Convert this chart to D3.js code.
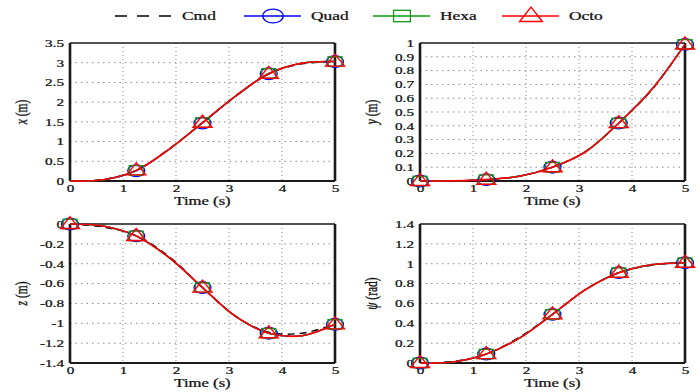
<!DOCTYPE html>
<html><head><meta charset="utf-8">
<script src="https://cdn.jsdelivr.net/npm/d3@7"></script>
<style>body{margin:0;background:#fff} svg{display:block} text{stroke:#111;stroke-width:0.25px}</style>
</head><body>
<svg id="c" width="700" height="392"></svg>
<script>
// ---------------- data ----------------
const time = [0, 0.625, 1.25, 1.875, 2.5, 3.125, 3.75, 4.375, 5];
const seriesNames = ["Cmd", "Quad", "Hexa", "Octo"];

const xCmd  = [0, 0.04, 0.27, 0.82, 1.48, 2.15, 2.72, 2.97, 3.03];
const xQuad = [0, 0.03, 0.26, 0.81, 1.47, 2.15, 2.72, 2.99, 3.03];
const xHexa = [0, 0.03, 0.27, 0.81, 1.48, 2.15, 2.73, 2.99, 3.03];
const xOcto = [0, 0.03, 0.27, 0.81, 1.48, 2.16, 2.72, 2.99, 3.03];

const yCmd  = [0, 0.001, 0.01, 0.035, 0.10, 0.215, 0.42, 0.66, 0.99];
const yQuad = [0, 0.001, 0.01, 0.034, 0.10, 0.212, 0.42, 0.665, 0.99];
const yHexa = [0, 0.001, 0.01, 0.034, 0.10, 0.213, 0.42, 0.665, 0.99];
const yOcto = [0, 0.001, 0.01, 0.034, 0.10, 0.212, 0.42, 0.665, 0.99];

const zCmd  = [0, -0.03, -0.12, -0.33, -0.64, -0.93, -1.09, -1.10, -1.01];
const zQuad = [0, -0.02, -0.12, -0.34, -0.64, -0.93, -1.10, -1.125, -1.01];
const zHexa = [0, -0.02, -0.12, -0.34, -0.64, -0.93, -1.10, -1.125, -1.01];
const zOcto = [0, -0.02, -0.12, -0.34, -0.64, -0.93, -1.10, -1.125, -1.01];

const psiCmd  = [0, 0.015, 0.09, 0.26, 0.49, 0.74, 0.91, 0.985, 1.01];
const psiQuad = [0, 0.01, 0.09, 0.25, 0.49, 0.74, 0.91, 0.99, 1.01];
const psiHexa = [0, 0.01, 0.09, 0.25, 0.49, 0.74, 0.91, 0.99, 1.01];
const psiOcto = [0, 0.01, 0.09, 0.25, 0.49, 0.74, 0.91, 0.99, 1.01];

const timeTicks = [0, 1, 2, 3, 4, 5];
const xTicks = [0, 0.5, 1, 1.5, 2, 2.5, 3, 3.5];
const yTicks = [0, 0.1, 0.2, 0.3, 0.4, 0.5, 0.6, 0.7, 0.8, 0.9, 1];
const zTicks = [-1.4, -1.2, -1, -0.8, -0.6, -0.4, -0.2, 0];
const psiTicks = [0, 0.2, 0.4, 0.6, 0.8, 1, 1.2, 1.4];

const xMarkerIdx = [2, 4, 6, 8];
const allMarkerIdx = [0, 2, 4, 6, 8];

// ---------------- style / layout ----------------
const SX = 1.45;
const FONT = "'Liberation Serif','Times New Roman',serif";
const colors = {Cmd: "#000", Quad: "#0000ff", Hexa: "#119911", Octo: "#ff0000"};

const panels = [
  {v: "x", unit: " (m)", dom: [0, 3.5], ticks: xTicks, data: [xCmd, xQuad, xHexa, xOcto], mk: xMarkerIdx, L: 70, R: 335, T: 43, B: 181, lx: 23},
  {v: "y", unit: " (m)", dom: [0, 1], ticks: yTicks, data: [yCmd, yQuad, yHexa, yOcto], mk: allMarkerIdx, L: 420, R: 685, T: 43, B: 181, lx: 373},
  {v: "z", unit: " (m)", dom: [-1.4, 0], ticks: zTicks, data: [zCmd, zQuad, zHexa, zOcto], mk: allMarkerIdx, L: 70, R: 335, T: 224, B: 363, lx: 23},
  {v: "ψ", unit: " (rad)", dom: [0, 1.4], ticks: psiTicks, data: [psiCmd, psiQuad, psiHexa, psiOcto], mk: allMarkerIdx, L: 420, R: 685, T: 224, B: 363, lx: 373}
];

const svg = d3.select("#c");
const fmt = d => String(+(+d).toFixed(2));

function drawMarker(g, name, cx, cy, big) {
  const k = big ? 1.2 : 1;
  if (name === "Quad") {
    g.append("ellipse").attr("cx", cx).attr("cy", cy).attr("rx", 8.5 * k).attr("ry", 5.8 * k)
      .attr("fill", "none").attr("stroke", colors.Quad).attr("stroke-width", 1.3);
  } else if (name === "Hexa") {
    const w = 14 * k, h = 9.5 * k;
    g.append("rect").attr("x", cx - w / 2).attr("y", cy - h / 2).attr("width", w).attr("height", h)
      .attr("fill", "none").attr("stroke", colors.Hexa).attr("stroke-width", 1.3);
  } else if (name === "Octo") {
    const w = 19 * k, h = 12 * k;
    g.append("path").attr("d", `M${cx},${cy - h * 0.62}L${cx + w / 2},${cy + h * 0.38}L${cx - w / 2},${cy + h * 0.38}Z`)
      .attr("fill", "none").attr("stroke", colors.Octo).attr("stroke-width", 1.4);
  }
}

panels.forEach(p => {
  const g = svg.append("g");
  const x = d3.scaleLinear().domain([0, 5]).range([p.L, p.R]);
  const y = d3.scaleLinear().domain(p.dom).range([p.B, p.T]);

  // grid
  g.append("g").selectAll("line").data(timeTicks.slice(1, -1)).join("line")
    .attr("x1", d => x(d)).attr("x2", d => x(d)).attr("y1", p.T).attr("y2", p.B)
    .attr("stroke", "#8a8a8a").attr("stroke-width", 1).attr("stroke-dasharray", "1,3");
  g.append("g").selectAll("line").data(p.ticks.slice(1, -1)).join("line")
    .attr("y1", d => y(d)).attr("y2", d => y(d)).attr("x1", p.L).attr("x2", p.R)
    .attr("stroke", "#8a8a8a").attr("stroke-width", 1).attr("stroke-dasharray", "1.5,4");

  // axes
  const ax = g.append("g").attr("transform", `translate(0,${p.B})`)
    .call(d3.axisBottom(x).tickValues(timeTicks).tickSize(0).tickFormat(fmt));
  ax.select(".domain").remove();
  ax.selectAll("text").attr("y", null).attr("dy", null)
    .attr("transform", `translate(0,11) scale(${SX},1)`)
    .attr("font-family", FONT).attr("font-size", 10.5).attr("fill", "#111");

  const ay = g.append("g").attr("transform", `translate(${p.L},0)`)
    .call(d3.axisLeft(y).tickValues(p.ticks).tickSize(0).tickFormat(fmt));
  ay.select(".domain").remove();
  ay.selectAll("text").attr("x", null).attr("dy", "0.32em")
    .attr("transform", `translate(-6,0) scale(${SX},1)`)
    .attr("font-family", FONT).attr("font-size", 10.5).attr("fill", "#111");

  // frame
  const fr = g.append("g").attr("stroke", "#1a1a1a");
  fr.append("line").attr("x1", p.L).attr("x2", p.R).attr("y1", p.T).attr("y2", p.T).attr("stroke-width", 1.4);
  fr.append("line").attr("x1", p.L).attr("x2", p.R).attr("y1", p.B).attr("y2", p.B).attr("stroke-width", 2);
  fr.append("line").attr("x1", p.L).attr("x2", p.L).attr("y1", p.T).attr("y2", p.B).attr("stroke-width", 2.6);
  fr.append("line").attr("x1", p.R).attr("x2", p.R).attr("y1", p.T).attr("y2", p.B).attr("stroke-width", 2.6);

  // lines
  const line = d3.line().x((d, i) => x(time[i])).y(d => y(d)).curve(d3.curveCatmullRom.alpha(0.5));
  seriesNames.forEach((name, si) => {
    g.append("path").datum(p.data[si]).attr("d", line).attr("fill", "none")
      .attr("stroke", colors[name]).attr("stroke-width", name === "Octo" ? 1.6 : 1.4)
      .attr("stroke-dasharray", name === "Cmd" ? "7,5" : null);
  });
  // markers
  seriesNames.slice(1).forEach((name, k) => {
    const arr = p.data[k + 1];
    p.mk.forEach(i => drawMarker(g, name, x(time[i]), y(arr[i]), false));
  });

  // labels
  g.append("text").attr("transform", `translate(${(p.L + p.R) / 2},${p.B + 24}) scale(${SX},1)`)
    .attr("text-anchor", "middle").attr("font-family", FONT).attr("font-size", 11.5).attr("fill", "#111")
    .text("Time (s)");
  const yl = g.append("text")
    .attr("transform", `translate(${p.lx + 4},${(p.T + p.B) / 2}) scale(${SX},1) rotate(-90)`)
    .attr("text-anchor", "middle").attr("font-family", FONT).attr("font-size", 11.5).attr("fill", "#111");
  yl.append("tspan").attr("font-style", "italic").text(p.v);
  yl.append("tspan").text(p.unit);
});

// legend
const lg = svg.append("g");
seriesNames.forEach((name, i) => {
  const x0 = 115 + i * 129, cy = 16;
  lg.append("line").attr("x1", x0).attr("x2", x0 + 57).attr("y1", cy).attr("y2", cy)
    .attr("stroke", colors[name]).attr("stroke-width", 1.4)
    .attr("stroke-dasharray", name === "Cmd" ? "12,10" : null);
  drawMarker(lg, name, x0 + 29, cy, true);
  lg.append("text").attr("transform", `translate(${x0 + 67},${cy + 4}) scale(${SX},1)`)
    .attr("font-family", FONT).attr("font-size", 12).attr("fill", "#111").text(name);
});
</script>
</body></html>
